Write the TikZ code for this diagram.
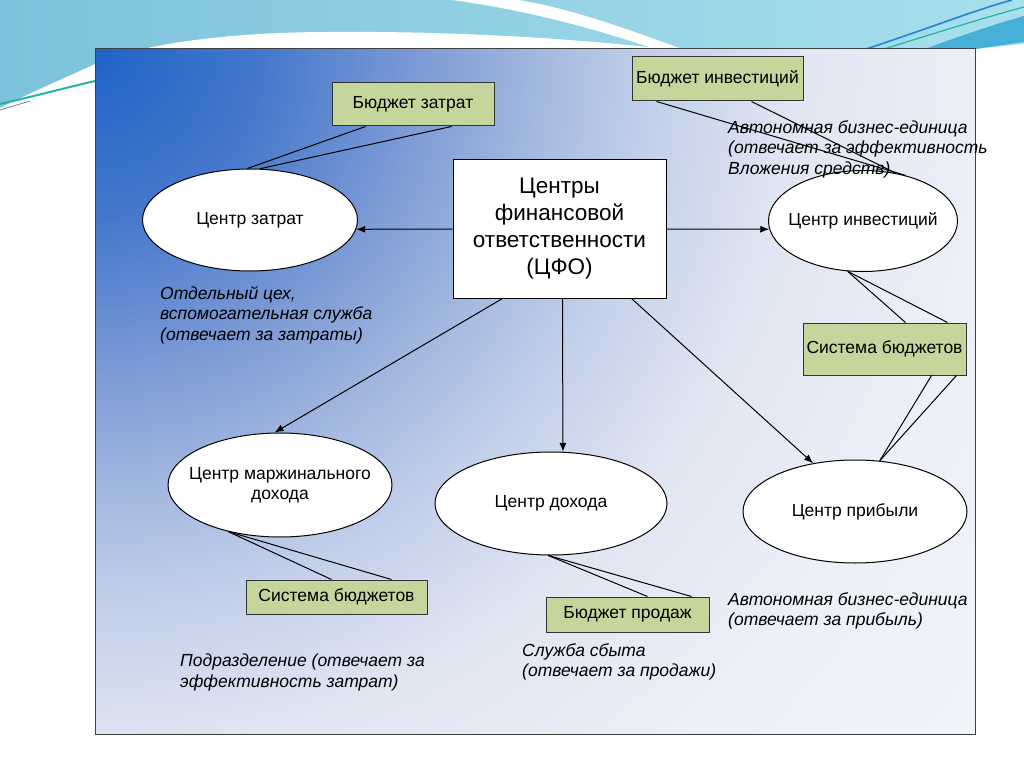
\documentclass[tikz,border=0pt]{standalone}
\usepackage{fontspec}
\setmainfont{Liberation Sans}
\usetikzlibrary{shapes.geometric}
\usetikzlibrary{arrows.meta}
\usetikzlibrary{positioning}

\definecolor{budgetgreen}{RGB}{196,214,155}
\definecolor{wavea}{RGB}{124,194,220}
\definecolor{waveb}{RGB}{168,224,236}
\definecolor{waveteal}{RGB}{38,178,170}
\definecolor{wavedeep}{RGB}{40,130,205}
\definecolor{wavemid}{RGB}{70,176,215}

% glow of the frame, radii in px from its top left corner
\pgfdeclareradialshading{framefill}{\pgfpointorigin}{%
  rgb(0bp)=(0.12,0.39,0.78);
  rgb(168bp)=(0.27,0.47,0.80);
  rgb(337bp)=(0.51,0.62,0.84);
  rgb(450bp)=(0.65,0.73,0.88);
  rgb(562bp)=(0.77,0.82,0.92);
  rgb(700bp)=(0.88,0.90,0.95);
  rgb(900bp)=(0.93,0.94,0.97);
  rgb(1200bp)=(0.95,0.96,0.98)}

\tikzset{
  cfobox/.style={draw, fill=white, line width=1pt, minimum width=213pt,
    minimum height=138pt, align=center, font=\fontsize{22.5}{27}\selectfont},
  centre/.style={ellipse, draw, fill=white, line width=1pt, inner sep=0pt,
    inner xsep=-30pt, align=center, font=\fontsize{17.5}{20.5}\selectfont},
  budget/.style={draw=black!80, fill=budgetgreen, line width=1pt, inner sep=0pt,
    font=\fontsize{17.5}{20.5}\selectfont},
  note/.style={anchor=north west, align=left, inner sep=0pt,
    font=\itshape\fontsize{17.5}{20.5}\selectfont},
  link/.style={line width=1pt},
  feed/.style={line width=1pt, -{Latex[length=9pt,width=7pt]}},
}

\begin{document}
\begin{tikzpicture}[x=1pt,y=-1pt]
      \useasboundingbox (0,0) rectangle (1024,767);

      % slide background
      \fill[white] (0,0) rectangle (1024,767);
      \path[left color=wavea, right color=waveb] (0,0) -- (1024,0) -- (1024,44)
        -- (975,49) -- (95,49) -- (95,64) .. controls (60,80) and (25,95) .. (0,108) -- cycle;
      \fill[white] (95,64) .. controls (150,40) and (250,32) .. (330,32)
        .. controls (450,31) and (570,38) .. (665,49) -- (95,49) -- cycle;
      \fill[white] (452,0) .. controls (540,12) and (610,34) .. (655,49) -- (682,49)
        .. controls (630,30) and (570,8) .. (518,0) -- cycle;
      \fill[wavemid] (925,49) .. controls (960,36) and (995,24) .. (1024,16) -- (1024,42) -- (975,49) -- cycle;
      \draw[wavedeep, line width=1.6pt] (866,49) .. controls (930,28) and (975,10) .. (1012,0);
      \draw[waveteal, line width=1.2pt] (884,49) .. controls (945,30) and (990,16) .. (1024,7);
      \draw[waveteal, line width=2pt] (0,104) .. controls (35,96) and (65,88) .. (95,81);
      \draw[gray, line width=0.8pt] (0,110) -- (30,101);

      % frame
      \begin{scope}
        \clip (95,49) rectangle (975,734);
        \node[inner sep=0pt] (glow) at (95,49) {\pgfuseshading{framefill}};
      \end{scope}
      \draw[black!75, line width=1pt] (95,49) rectangle (975,734);

      \node[cfobox] (cfo) at (559.5,229) {Центры\\финансовой\\ответственности\\(ЦФО)};

      \node[centre, minimum width=215pt, minimum height=102pt] (cz) at (250,220) {Центр затрат};
      \node[centre, minimum width=189pt, minimum height=101pt] (ci) at (863,221) {Центр инвестиций};
      \node[centre, minimum width=224pt, minimum height=104pt] (cmd) at (280,485) {Центр маржинального\\дохода};
      \node[centre, minimum width=232pt, minimum height=103pt] (cd) at (551,503.5) {Центр дохода};
      \node[centre, minimum width=224pt, minimum height=103pt] (cp) at (855,511.5) {Центр прибыли};

      \node[budget, minimum width=162pt, minimum height=43pt] (bz) at (413,104.5) {Бюджет затрат};
      \node[budget, minimum width=171pt, minimum height=44pt] (bi) at (717.5,79) {Бюджет инвестиций};
      \node[budget, minimum width=163pt, minimum height=52pt] (sbr) at (884.5,349) {Система бюджетов};
      \node[budget, minimum width=181pt, minimum height=34pt] (sbl) at (336.5,597) {Система бюджетов};
      \node[budget, minimum width=163pt, minimum height=35pt] (bp) at (627.5,614.5) {Бюджет продаж};

      \node[note] (ncz) at (160,286) {Отдельный цех,\\вспомогательная служба\\ (отвечает за затраты)};
      \node[note] (nci) at (728,120) {Автономная бизнес-единица\\(отвечает за эффективность\\Вложения средств)};
      \node[note] (ncp) at (728,592) {Автономная бизнес-единица\\(отвечает за прибыль)};
      \node[note] (ncmd) at (180,654) {Подразделение (отвечает за\\эффективность затрат)};
      \node[note] (ncd) at (522,643) {Служба сбыта\\(отвечает за продажи)};

      \draw[feed] (cfo.west) -- (cz.-5);
      \draw[feed] (cfo.east) -- (ci.185);
      \draw[feed] ([xshift=50pt]cfo.south west) -- (cmd.96);
      \draw[feed] ([xshift=110pt]cfo.south west) -- (cd.77);
      \draw[feed] ([xshift=179pt]cfo.south west) -- (cp.131);

      \draw[link] ([xshift=34pt]bz.south west) -- (cz.93);
      \draw[link] ([xshift=120pt]bz.south west) -- (cz.79);
      \draw[link] ([xshift=25pt]bi.south west) -- (ci.47);
      \draw[link] ([xshift=120pt]bi.south west) -- (ci.56);
      \draw[link] (ci.253) -- ([xshift=103pt]sbr.north west);
      \draw[link] (ci.253) -- ([xshift=145pt]sbr.north west);
      \draw[link] ([xshift=129pt]sbr.south west) -- (cp.64);
      \draw[link] ([xshift=154pt]sbr.south west) -- (cp.64);
      \draw[link] (cmd.222) -- ([xshift=86pt]sbl.north west);
      \draw[link] (cmd.222) -- ([xshift=146pt]sbl.north west);
      \draw[link] (cd.267) -- ([xshift=102pt]bp.north west);
      \draw[link] (cd.267) -- ([xshift=146pt]bp.north west);
    \end{tikzpicture}
\end{document}
